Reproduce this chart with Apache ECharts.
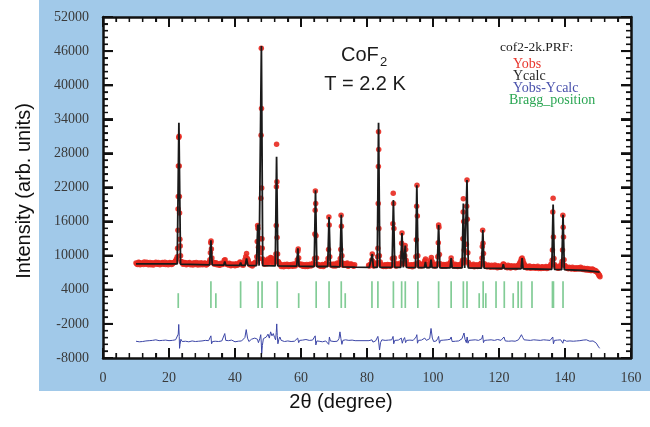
<!DOCTYPE html>
<html>
<head>
<meta charset="utf-8">
<script src="https://cdn.jsdelivr.net/npm/echarts@6/dist/echarts.min.js"></script>
<style>
  html, body { margin: 0; padding: 0; background: #ffffff; }
  #wrap { position: relative; width: 650px; height: 427px; }
  #panel { position: absolute; left: 39px; top: 0; width: 611px; height: 391px; background: #a1c9e9; z-index: 0; }
  #plotbg { position: absolute; left: 103px; top: 17px; width: 528px; height: 341px; background: #ffffff; z-index: 1; }
  #chart { position: absolute; left: 0; top: 0; width: 650px; height: 427px; z-index: 2; }
</style>
</head>
<body>
<div id="wrap">
  <div id="panel"></div>
  <div id="plotbg"></div>
  <div id="chart"></div>
</div>
<script>
// Neutron powder pattern of CoF2 at 2.2 K (FullProf output cof2-2k.PRF)

// Observed intensity, background region [2theta, counts]
const yobsBackground = [
  [10.0, 8700], [10.5, 8450], [11.0, 8800], [11.5, 8550], [12.0, 8650], [12.5, 8900], [13.0, 8500], [13.5, 8700],
  [14.0, 8600], [14.5, 8400], [15.0, 8750], [15.5, 8600], [16.0, 8850], [16.5, 8500], [17.0, 8650], [17.5, 8550],
  [18.0, 8800], [18.5, 8600], [19.0, 8450], [19.5, 8700], [20.0, 8600], [20.5, 8750], [21.0, 8550], [21.5, 8800],
  [22.0, 9100], [24.0, 8900], [24.5, 8600], [25.0, 8750], [25.5, 8500], [26.0, 8650], [26.5, 8400], [27.0, 8600],
  [27.5, 8750], [28.0, 8450], [28.5, 8550], [29.0, 8700], [29.5, 8400], [30.0, 8600], [30.5, 8500], [31.0, 8650],
  [31.5, 8450], [32.0, 8700], [33.5, 8800], [34.0, 8650], [34.5, 8400], [35.0, 8550], [35.5, 8350], [36.0, 8600],
  [36.5, 8700], [37.0, 9300], [37.5, 8500], [38.0, 8350], [38.5, 8550], [39.0, 8300], [39.5, 8450], [40.0, 8250],
  [40.5, 8400], [41.0, 8550], [41.5, 8900], [42.0, 8400], [42.5, 8300], [43.0, 9300], [43.5, 10400], [44.0, 9200],
  [44.5, 8400], [45.0, 8300], [45.5, 8450], [46.0, 8600], [49.0, 8500], [49.5, 8800], [50.0, 9400], [50.5, 8700],
  [51.0, 9600], [51.5, 8900], [52.0, 9200], [53.5, 8600], [54.0, 8100], [54.5, 8300], [55.0, 8450], [55.5, 8150],
  [56.0, 8350], [56.5, 8200], [57.0, 8450], [57.5, 8150], [58.0, 8300], [58.5, 8500], [59.5, 8600], [60.0, 8300],
  [60.5, 8150], [61.0, 8400], [61.5, 8250], [62.0, 8100], [62.5, 8350], [63.0, 8200], [63.5, 8450], [65.5, 8300],
  [66.0, 8150], [66.5, 8450], [67.0, 8250], [67.5, 8500], [69.5, 8350], [70.0, 8550], [70.5, 8200], [71.0, 8700],
  [71.5, 8400], [73.0, 8600], [73.5, 8350], [74.0, 8700], [74.5, 8250], [75.0, 8500], [75.5, 8300], [76.0, 8150],
  [80.5, 8300], [81.0, 8450], [82.0, 8200], [82.5, 8400], [84.5, 8300], [85.0, 8100], [85.5, 8400], [86.0, 8200],
  [86.5, 8350], [87.0, 8150], [87.5, 8300], [88.5, 8400], [89.0, 8250], [89.5, 8450], [92.5, 8300], [93.0, 8150],
  [93.5, 8400], [94.0, 8250], [94.5, 8500], [96.0, 8350], [96.5, 8200], [97.0, 8450], [97.5, 9100], [98.0, 8400],
  [98.5, 8250], [99.0, 8700], [99.5, 9700], [100.0, 8500], [100.5, 8200], [101.0, 8350], [102.5, 8300], [103.0, 8150],
  [103.5, 8400], [104.0, 8200], [104.5, 8350], [105.0, 8600], [106.0, 8450], [106.5, 8150], [107.0, 8350], [107.5, 8100],
  [108.0, 8300], [108.5, 8500], [111.0, 8400], [111.5, 8150], [112.0, 8300], [112.5, 8050], [113.0, 8250], [113.5, 8100],
  [114.0, 8350], [114.5, 8500], [116.0, 8250], [116.5, 8050], [117.0, 8200], [117.5, 7950], [118.0, 8150], [118.5, 8000],
  [119.0, 8200], [119.5, 7900], [120.0, 8100], [120.5, 7950], [121.0, 8250], [121.5, 8500], [122.0, 8050], [122.5, 7900],
  [123.0, 8150], [123.5, 7850], [124.0, 8000], [124.5, 8150], [125.0, 7900], [125.5, 8050], [126.0, 8300], [126.5, 9000],
  [127.0, 9600], [127.5, 8700], [128.0, 8000], [128.5, 7850], [129.0, 8050], [129.5, 7800], [130.0, 7950], [130.5, 8100],
  [131.0, 7800], [131.5, 7950], [132.0, 7750], [132.5, 7900], [133.0, 8050], [133.5, 7800], [134.0, 7950], [134.5, 7750],
  [135.0, 7900], [135.5, 8200], [137.5, 8000], [138.0, 7800], [138.5, 8100], [140.5, 7900], [141.0, 7700], [141.5, 7850],
  [142.0, 7650], [142.5, 7800], [143.0, 7600], [143.5, 7750], [144.0, 7900], [144.5, 7650], [145.0, 7800], [145.5, 7550],
  [146.0, 7700], [146.5, 7600], [147.0, 7450], [147.5, 7650], [148.0, 7400], [148.5, 7550], [149.0, 7300], [149.5, 7200],
  [150.0, 6900], [150.3, 6500], [150.6, 6300]
];

// Observed intensity, background points between the above steps [2theta, counts]
const yobsBackgroundMid = [
  [10.25, 8550], [10.75, 8850], [11.25, 8400], [11.75, 8700], [12.25, 8450], [12.75, 8650], [13.25, 8850], [13.75, 8400],
  [14.25, 8800], [14.75, 8550], [15.25, 8350], [15.75, 8700], [16.25, 8550], [16.75, 8800], [17.25, 8400], [17.75, 8700],
  [18.25, 8500], [18.75, 8850], [19.25, 8650], [19.75, 8400], [20.25, 8800], [20.75, 8450], [21.25, 8700], [21.75, 8900],
  [22.25, 9400], [24.25, 8500], [24.75, 8800], [25.25, 8400], [25.75, 8700], [26.25, 8800], [26.75, 8500], [27.25, 8350],
  [27.75, 8600], [28.25, 8800], [28.75, 8350], [29.25, 8600], [29.75, 8750], [30.25, 8400], [30.75, 8700], [31.25, 8350],
  [31.75, 8600], [32.25, 8900], [33.75, 8500], [34.25, 8750], [34.75, 8550], [35.25, 8300], [35.75, 8650], [36.25, 8450],
  [36.75, 9200], [37.25, 8700], [37.75, 8450], [38.25, 8650], [38.75, 8250], [39.25, 8550], [39.75, 8350], [40.25, 8600],
  [40.75, 8300], [41.25, 8650], [41.75, 8800], [42.25, 8550], [42.75, 8700], [43.25, 9800], [43.75, 9500], [44.25, 8700],
  [44.75, 8500], [45.25, 8200], [45.75, 8650], [46.25, 8900], [48.75, 8800], [49.25, 9100], [49.75, 8600], [50.25, 9200],
  [50.75, 9700], [51.25, 9100], [51.75, 8700], [52.15, 9300], [53.25, 8800], [53.75, 8450], [54.25, 8300], [54.75, 8050],
  [55.25, 8350], [55.75, 8500], [56.25, 8100], [56.75, 8400], [57.25, 8250], [57.75, 8550], [58.25, 8200], [58.75, 8700],
  [59.75, 8350], [60.25, 8500], [60.75, 8250], [61.25, 8100], [61.75, 8450], [62.25, 8250], [62.75, 8500], [63.25, 8300],
  [63.75, 8700], [64.9, 8500], [65.25, 8450], [65.75, 8200], [66.25, 8300], [66.75, 8100], [67.25, 8450], [67.75, 8700],
  [68.9, 8400], [69.25, 8500], [69.75, 8200], [70.25, 8400], [70.75, 8350], [71.25, 8550], [71.75, 8800], [72.6, 8700],
  [72.75, 8300], [73.25, 8450], [73.75, 8600], [74.25, 8150], [74.75, 8450], [75.25, 8550], [75.75, 8250], [76.25, 8400],
  [80.75, 8200], [81.25, 8550], [81.95, 8350], [82.25, 8550], [82.75, 8300], [83.0, 8700], [84.0, 8900], [84.25, 8450],
  [84.75, 8200], [85.25, 8300], [85.75, 8100], [86.25, 8450], [86.75, 8250], [87.25, 8450], [88.6, 8700], [88.75, 8200],
  [89.25, 8450], [89.75, 8300], [90.1, 8700], [91.1, 8600], [92.1, 8600], [92.25, 8400], [92.75, 8200], [93.25, 8350],
  [93.75, 8050], [94.25, 8350], [95.6, 8800], [95.75, 8250], [96.25, 8500], [96.75, 8300], [97.25, 8700], [97.75, 9400],
  [98.25, 8300], [98.75, 8500], [99.25, 9200], [99.75, 9000], [100.25, 8400], [100.75, 8250], [101.25, 8600], [102.2, 8600],
  [102.75, 8250], [103.25, 8450], [103.75, 8200], [104.25, 8500], [104.75, 8300], [105.25, 8700], [105.85, 8400], [106.25, 8300],
  [106.75, 8500], [107.25, 8200], [107.75, 8400], [108.25, 8200], [108.75, 8700], [109.6, 9300], [109.85, 8900], [110.75, 8800],
  [111.25, 8350], [111.75, 8250], [112.25, 8500], [112.75, 8150], [113.25, 8400], [113.75, 8250], [114.25, 8450], [114.6, 8700],
  [115.6, 8600], [115.75, 8300], [116.25, 8100], [116.75, 8350], [117.25, 8100], [117.75, 8300], [118.25, 8050], [118.75, 8350],
  [119.25, 8100], [119.75, 8250], [120.25, 7950], [120.75, 8150], [121.25, 8550], [121.75, 8200], [122.25, 8100], [122.75, 8300],
  [123.25, 8000], [123.75, 8250], [124.25, 7950], [124.75, 8200], [125.25, 8050], [125.75, 8300], [126.25, 8650], [126.75, 9400],
  [127.25, 9200], [127.75, 8400], [128.25, 8150], [128.75, 7950], [129.25, 8200], [129.75, 8000], [130.25, 7850], [130.75, 8050],
  [131.25, 7900], [131.75, 8150], [132.25, 7900], [132.75, 7750], [133.25, 8000], [133.75, 7900], [134.25, 8100], [134.75, 7950],
  [135.25, 8050], [135.75, 8500], [136.9, 8400], [137.25, 8100], [137.75, 7850], [138.25, 7950], [138.75, 8400], [139.9, 8300],
  [140.25, 8100], [140.75, 7800], [141.25, 7950], [141.75, 7750], [142.25, 7950], [142.75, 7700], [143.25, 7900], [143.75, 7650],
  [144.25, 7800], [144.75, 7950], [145.25, 7650], [145.75, 7800], [146.25, 7500], [146.75, 7750], [147.25, 7550], [147.75, 7400],
  [148.25, 7650], [148.75, 7450], [149.25, 7400], [149.75, 7100], [150.15, 6800], [150.45, 6550]
];

// Observed intensity on the Bragg peaks [2theta, counts]
const yobsPeaks = [
  [22.5, 9800], [22.6, 11300], [22.7, 14500], [22.75, 18200], [22.8, 20400], [22.85, 25800], [22.95, 30800],
  [23.05, 31000], [23.1, 25800], [23.15, 20400], [23.2, 17500], [23.3, 12900], [23.4, 11700], [23.5, 10000], [23.7, 9000],
  [32.4, 9300], [32.55, 10500], [32.65, 12300], [32.75, 12600], [32.85, 11200], [33.0, 9600], [33.2, 8900],
  [46.6, 9800], [46.75, 12500], [46.85, 15300], [46.95, 14800], [47.1, 11500], [47.3, 9500],
  [47.7, 10500], [47.78, 13000], [47.85, 20100], [47.9, 31200], [47.97, 46500], [48.03, 35900], [48.1, 21900],
  [48.17, 13000], [48.25, 11300], [48.4, 9400],
  [52.3, 9600], [52.4, 10300], [52.5, 15300], [52.55, 22150], [52.6, 29600], [52.7, 23000], [52.75, 13200],
  [52.9, 10300], [53.1, 9000],
  [58.9, 9300], [59.05, 10800], [59.15, 11200], [59.3, 9600],
  [64.1, 9500], [64.2, 13800], [64.3, 18000], [64.35, 21400], [64.45, 19200], [64.55, 13500], [64.7, 9600],
  [68.2, 9500], [68.35, 11100], [68.45, 16800], [68.55, 15400], [68.7, 9800],
  [71.9, 9500], [72.05, 11100], [72.15, 17100], [72.25, 15200], [72.4, 10000],
  [81.4, 9200], [81.6, 10300], [81.8, 9000],
  [83.2, 9800], [83.3, 11300], [83.4, 19200], [83.45, 25700], [83.5, 31800], [83.55, 28700], [83.6, 14800], [83.75, 10000],
  [87.7, 9500], [87.85, 15600], [87.95, 21000], [88.05, 19200], [88.15, 14800], [88.3, 9600],
  [90.35, 9800], [90.5, 12200], [90.6, 14000], [90.75, 10500],
  [91.45, 10000], [91.55, 11800], [91.7, 11100], [91.85, 9200],
  [94.8, 9800], [94.95, 12800], [95.05, 18700], [95.15, 22400], [95.25, 17000], [95.4, 10000],
  [101.45, 9800], [101.6, 12300], [101.7, 15400], [101.8, 15000], [101.95, 10200],
  [105.4, 9000], [105.5, 9600], [105.65, 8900],
  [108.95, 9200], [109.05, 13000], [109.15, 17700], [109.2, 20000], [109.3, 16000], [109.45, 11000],
  [110.1, 12000], [110.2, 18700], [110.3, 23300], [110.4, 16400], [110.55, 10500],
  [114.85, 9600], [114.95, 11600], [115.05, 14500], [115.15, 12200], [115.3, 10400],
  [136.1, 9200], [136.2, 11000], [136.3, 17700], [136.4, 20100], [136.5, 13300], [136.65, 9500],
  [139.1, 9000], [139.25, 11000], [139.35, 17100], [139.45, 15000], [139.55, 13300], [139.7, 9300]
];

// Calculated profile [2theta, counts]
const ycalc = [
  [10, 8550], [22.5, 8550], [23.0, 33400], [23.5, 8500], [32.3, 8400], [32.7, 12700], [33.1, 8400],
  [36.6, 8350], [36.9, 9000], [37.2, 8350], [41.4, 8300], [41.7, 8800], [42.0, 8300], [43.1, 8300], [43.5, 9500],
  [43.9, 8300], [46.5, 8250], [46.9, 15500], [47.3, 8250], [47.6, 8250], [48.0, 46900], [48.4, 8250],
  [52.2, 8200], [52.6, 27400], [53.0, 8200], [58.7, 8150], [59.05, 11300], [59.4, 8150], [64.0, 8100],
  [64.4, 21500], [64.8, 8100], [68.1, 8100], [68.5, 16800], [68.9, 8100], [71.8, 8050], [72.2, 17200],
  [72.6, 8050], [76.3, 8000], [80.7, 7950], [81.3, 7950], [81.6, 10300], [81.9, 7950], [83.1, 7950],
  [83.5, 33400], [83.9, 7950], [87.6, 7950], [88.0, 19800], [88.4, 7950], [90.2, 7950], [90.6, 14000],
  [91.0, 7950], [91.25, 7950], [91.6, 11800], [91.95, 7950], [94.7, 7900], [95.1, 22400], [95.5, 7900],
  [97.4, 7900], [97.7, 8900], [98.0, 7900], [99.1, 7900], [99.4, 9300], [99.7, 7900], [101.3, 7900],
  [101.7, 15400], [102.1, 7850], [105.2, 7850], [105.5, 9600], [105.8, 7850], [108.8, 7850], [109.2, 19200],
  [109.6, 7850], [109.9, 7850], [110.3, 23300], [110.7, 7850], [114.7, 7800], [115.1, 14500], [115.5, 7800],
  [121.0, 7750], [121.3, 8500], [121.6, 7750], [126.7, 7700], [127.0, 9600], [127.3, 7700], [136.0, 7600],
  [136.4, 19000], [136.8, 7600], [139.0, 7550], [139.4, 17200], [139.8, 7550], [146.0, 7400], [150.5, 7100]
];

// Difference curve Yobs - Ycalc, shifted down [2theta, counts]
const ydiff = [
  [10.0, -5050], [10.5, -4900], [11.0, -5150], [11.5, -4950], [12.0, -5100], [12.5, -4850], [13.0, -5000], [13.5, -5200],
  [14.0, -4950], [14.5, -5100], [15.0, -4900], [15.5, -5050], [16.0, -4800], [16.5, -5100], [17.0, -4950], [17.5, -5150],
  [18.0, -4900], [18.5, -5000], [19.0, -4850], [19.5, -5100], [20.0, -4950], [20.5, -5050], [21.0, -4900], [21.5, -5000],
  [22.0, -4800], [22.5, -4600], [22.8, -3800], [22.95, -2100], [23.1, -4200], [23.2, -6300], [23.35, -5600], [23.6, -4700],
  [24.0, -5100], [24.5, -4900], [25.0, -5050], [25.5, -4950], [26.0, -5150], [26.5, -4900], [27.0, -5000], [27.5, -4850],
  [28.0, -5100], [28.5, -4950], [29.0, -5050], [29.5, -4800], [30.0, -5000], [30.5, -5150], [31.0, -4900], [31.5, -5050],
  [32.0, -4950], [32.5, -4600], [32.7, -4100], [32.9, -5500], [33.2, -5100], [33.5, -4900], [34.0, -5050], [34.5, -4950],
  [35.0, -5100], [35.5, -4850], [36.0, -5000], [36.5, -4700], [36.9, -3700], [37.2, -4900], [37.5, -5100], [38.0, -4950],
  [38.5, -5050], [39.0, -4850], [39.5, -5000], [40.0, -5150], [40.5, -4900], [41.0, -5050], [41.5, -4800], [42.0, -5000],
  [42.5, -5100], [43.0, -4400], [43.4, -3000], [43.8, -4500], [44.2, -5100], [44.5, -4950], [45.0, -4700], [45.5, -5000],
  [46.0, -4500], [46.5, -4200], [46.8, -4700], [47.1, -5300], [47.5, -4600], [47.8, -3900], [47.95, -5200], [48.1, -7200],
  [48.3, -5800], [48.6, -4600], [49.0, -4800], [49.5, -4300], [50.0, -3800], [50.4, -4500], [50.8, -3400], [51.2, -4100],
  [51.6, -3700], [52.0, -4400], [52.3, -4800], [52.5, -3500], [52.65, -2000], [52.8, -4000], [53.0, -5500], [53.3, -4700],
  [53.6, -4300], [54.0, -4900], [54.5, -4700], [55.0, -5100], [55.5, -4800], [56.0, -5000], [56.5, -4750], [57.0, -5100],
  [57.5, -4900], [58.0, -5050], [58.5, -4800], [59.0, -4500], [59.3, -5300], [59.6, -4900], [60.0, -5100], [60.5, -4850],
  [61.0, -5000], [61.5, -4750], [62.0, -5050], [62.5, -4900], [63.0, -5100], [63.5, -4850], [64.0, -4700], [64.3, -4100],
  [64.5, -5700], [64.8, -5000], [65.2, -4800], [65.5, -5050], [66.0, -4900], [66.5, -5150], [67.0, -4850], [67.5, -5000],
  [68.0, -4800], [68.4, -5600], [68.6, -4300], [68.9, -5000], [69.5, -4850], [70.0, -5100], [70.5, -4900], [71.0, -5050],
  [71.5, -4600], [71.8, -3400], [72.1, -4600], [72.4, -5600], [72.7, -4900], [73.0, -5000], [73.5, -4800], [74.0, -5100],
  [74.5, -4900], [75.0, -5050], [75.5, -4850], [76.0, -5000], [76.4, -4950], [80.6, -4950], [81.0, -5100], [81.5, -4800],
  [81.8, -5200], [82.2, -4900], [82.6, -5000], [83.0, -4800], [83.3, -4200], [83.55, -5200], [83.8, -6600], [84.1, -5300],
  [84.5, -4800], [85.0, -5050], [85.5, -4900], [86.0, -5100], [86.5, -4850], [87.0, -5000], [87.5, -4800], [87.9, -4200],
  [88.1, -5500], [88.4, -4900], [89.0, -5050], [89.5, -4850], [90.0, -5000], [90.4, -4500], [90.7, -5400], [91.0, -4800],
  [91.4, -4400], [91.7, -5300], [92.0, -4900], [92.5, -5050], [93.0, -4850], [93.5, -5100], [94.0, -4900], [94.5, -4800],
  [94.9, -4300], [95.1, -3900], [95.3, -5400], [95.6, -4900], [96.0, -5050], [96.5, -4850], [97.0, -4950], [97.5, -4500],
  [98.0, -4900], [98.5, -5100], [99.0, -4600], [99.4, -2800], [99.8, -4500], [100.2, -5100], [100.6, -4850], [101.0, -5000],
  [101.4, -4600], [101.7, -4200], [101.95, -5400], [102.3, -4900], [102.8, -5050], [103.3, -4850], [103.8, -5000],
  [104.3, -4800], [104.8, -5050], [105.2, -4700], [105.5, -4300], [105.8, -5100], [106.3, -4900], [106.8, -5050],
  [107.3, -4850], [107.8, -5000], [108.3, -4800], [108.8, -4600], [109.1, -4100], [109.4, -3600], [109.7, -4700],
  [110.1, -5300], [110.35, -4300], [110.6, -5400], [110.9, -4900], [111.3, -5050], [111.8, -4850], [112.3, -5000],
  [112.8, -4800], [113.3, -5050], [113.8, -4900], [114.3, -5000], [114.8, -4600], [115.05, -4000], [115.3, -5300],
  [115.6, -4900], [116.1, -5050], [116.6, -4850], [117.1, -5000], [117.6, -4800], [118.1, -5050], [118.6, -4900],
  [119.1, -5000], [119.6, -4750], [120.1, -5050], [120.6, -4900], [121.1, -4750], [121.5, -4300], [121.9, -5000],
  [122.4, -4850], [122.9, -5050], [123.4, -4800], [123.9, -5000], [124.4, -4850], [124.9, -5050], [125.4, -4900],
  [125.9, -4800], [126.4, -4500], [126.8, -3900], [127.2, -4400], [127.6, -4800], [128.0, -5000], [128.5, -4850],
  [129.0, -5050], [129.5, -4900], [130.0, -5000], [130.5, -4800], [131.0, -5050], [131.5, -4850], [132.0, -5000],
  [132.5, -4900], [133.0, -5050], [133.5, -4800], [134.0, -5000], [134.5, -4850], [135.0, -5050], [135.5, -4900],
  [136.0, -4700], [136.3, -4300], [136.5, -5500], [136.8, -4900], [137.2, -5050], [137.7, -4850], [138.2, -5000],
  [138.7, -4800], [139.1, -4500], [139.35, -5400], [139.6, -4800], [140.0, -4950], [140.5, -5050], [141.0, -4850],
  [141.5, -5000], [142.0, -4800], [142.5, -5050], [143.0, -4900], [143.5, -5000], [144.0, -4800], [144.5, -4950],
  [145.0, -5050], [145.5, -4850], [146.0, -5000], [146.5, -4800], [147.0, -4950], [147.5, -5050], [148.0, -4900],
  [148.5, -5000], [149.0, -5150], [149.5, -5400], [150.0, -5900], [150.5, -6300]
];

// Bragg reflection positions (2theta): full-height markers and short markers
const braggTall = [32.7, 41.7, 47.0, 48.2, 52.8, 64.6, 68.5, 72.2, 81.5, 83.3, 88.0, 90.5, 91.6, 95.4,
  101.7, 105.5, 109.2, 110.3, 115.2, 119.1, 121.6, 125.8, 126.8, 130.0, 136.2, 136.5, 139.4];
const braggShort = [22.8, 34.2, 59.3, 73.4, 114.0, 116.0, 124.3];
const braggRange = { bottom: 800, tallTop: 5500, shortTop: 3400 };

// Intensity tick labels run from -8000 upward in steps of 6000
const intensityMin = -8000;
const intensityMax = 52000;
const intensityStep = 6000;
const thetaMin = 0, thetaMax = 160, thetaStep = 20;
const minorSplit = 5;

// The value axis is laid out from zero; shift every intensity by the lowest label
const shift = v => v - intensityMin;
const toAxis = arr => arr.map(p => [p[0], shift(p[1])]);
const yAxisMax = intensityMax - intensityMin;

const braggData = braggTall.map(t => [t, shift(braggRange.bottom), shift(braggRange.tallTop)])
  .concat(braggShort.map(t => [t, shift(braggRange.bottom), shift(braggRange.shortTop)]));

// Plot frame layout
const chartW = 650, chartH = 427;
const gridBox = { left: 103, right: 19, top: 17, bottom: 69 };
const plotW = chartW - gridBox.left - gridBox.right;
const plotH = chartH - gridBox.top - gridBox.bottom;

const serif = 'Liberation Serif';
const axisColor = '#111111';
const majorLen = 10, minorLen = 5;

// Inward frame ticks on all four sides, drawn as broken line segments in data units
function frameTickSegments(major) {
  const len = major ? majorLen : minorLen;
  const dy = len * yAxisMax / plotH;
  const dx = len * (thetaMax - thetaMin) / plotW;
  const gap = ['-', '-'];
  const out = [];
  const xStep = thetaStep / minorSplit;
  const xn = Math.round((thetaMax - thetaMin) / xStep);
  for (let i = 0; i <= xn; i++) {
    if ((i % minorSplit === 0) !== major) continue;
    const v = thetaMin + i * xStep;
    out.push([v, 0], [v, dy], gap, [v, yAxisMax], [v, yAxisMax - dy], gap);
  }
  const yStep = intensityStep / minorSplit;
  const yn = Math.round(yAxisMax / yStep);
  for (let i = 0; i <= yn; i++) {
    if ((i % minorSplit === 0) !== major) continue;
    const v = i * yStep;
    out.push([thetaMin, v], [thetaMin + dx, v], gap, [thetaMax, v], [thetaMax - dx, v], gap);
  }
  return out;
}

// The same frame ticks as graphic lines, mapped linearly from axis range to the grid box
function frameTickGraphics() {
  const px = v => gridBox.left + (v - thetaMin) / (thetaMax - thetaMin) * plotW;
  const py = v => gridBox.top + plotH - v / yAxisMax * plotH;
  const out = [];
  const add = (x1, y1, x2, y2, major) => out.push({
    type: 'line', z: 100, silent: false,
    shape: { x1: x1, y1: y1, x2: x2, y2: y2 },
    style: { stroke: axisColor, lineWidth: major ? 2 : 1.2 }
  });
  const xStep = thetaStep / minorSplit;
  const xn = Math.round((thetaMax - thetaMin) / xStep);
  for (let i = 0; i <= xn; i++) {
    const major = i % minorSplit === 0;
    const len = major ? majorLen : minorLen;
    const x = px(thetaMin + i * xStep);
    add(x, py(0), x, py(0) - len, major);
    add(x, py(yAxisMax), x, py(yAxisMax) + len, major);
  }
  const yStep = intensityStep / minorSplit;
  const yn = Math.round(yAxisMax / yStep);
  for (let i = 0; i <= yn; i++) {
    const major = i % minorSplit === 0;
    const len = major ? majorLen : minorLen;
    const y = py(i * yStep);
    add(px(thetaMin), y, px(thetaMin) + len, y, major);
    add(px(thetaMax), y, px(thetaMax) - len, y, major);
  }
  return out;
}

const tickStyle = {
  axisTick: { show: true, inside: true, length: majorLen, lineStyle: { color: axisColor, width: 2 } },
  minorTick: { show: true, splitNumber: minorSplit, length: minorLen, lineStyle: { color: axisColor, width: 1.2 } }
};
const baseX = Object.assign({
  type: 'value', min: thetaMin, max: thetaMax, interval: thetaStep,
  axisLine: { show: true, onZero: false, lineStyle: { color: axisColor, width: 2.5 } },
  splitLine: { show: false }
}, tickStyle);
const baseY = Object.assign({
  type: 'value', min: 0, max: yAxisMax, interval: intensityStep,
  axisLine: { show: true, onZero: false, lineStyle: { color: axisColor, width: 2.5 } },
  splitLine: { show: false }
}, tickStyle);

const textGraphics = [
  { type: 'text', x: 341, y: 55, style: { text: 'CoF', font: '20px "Liberation Sans"', fill: '#1c1c1c', textAlign: 'left', textVerticalAlign: 'middle' } },
  { type: 'text', x: 380, y: 62, style: { text: '2', font: '13px "Liberation Sans"', fill: '#1c1c1c', textAlign: 'left', textVerticalAlign: 'middle' } },
  { type: 'text', x: 365, y: 84, style: { text: 'T = 2.2 K', font: '20px "Liberation Sans"', fill: '#1c1c1c', textAlign: 'center', textVerticalAlign: 'middle' } },
  { type: 'text', x: 500, y: 47, style: { text: 'cof2-2k.PRF:', font: '13.5px "Liberation Serif"', fill: '#222222', textAlign: 'left', textVerticalAlign: 'middle' } },
  { type: 'text', x: 513, y: 64, style: { text: 'Yobs', font: '14px "Liberation Serif"', fill: '#e8352c', textAlign: 'left', textVerticalAlign: 'middle' } },
  { type: 'text', x: 513, y: 76, style: { text: 'Ycalc', font: '14px "Liberation Serif"', fill: '#2a2a2a', textAlign: 'left', textVerticalAlign: 'middle' } },
  { type: 'text', x: 513, y: 88, style: { text: 'Yobs-Ycalc', font: '14px "Liberation Serif"', fill: '#4a52ac', textAlign: 'left', textVerticalAlign: 'middle' } },
  { type: 'text', x: 509, y: 100, style: { text: 'Bragg_position', font: '14px "Liberation Serif"', fill: '#2aa653', textAlign: 'left', textVerticalAlign: 'middle' } },
  { type: 'text', x: 24, y: 191, rotation: Math.PI / 2, style: { text: 'Intensity (arb. units)', font: '20px "Liberation Sans"', fill: '#111111', textAlign: 'center', textVerticalAlign: 'middle' } },
  { type: 'text', x: 341, y: 402, style: { text: '2θ (degree)', font: '20px "Liberation Sans"', fill: '#111111', textAlign: 'center', textVerticalAlign: 'middle' } }
];

const chart = echarts.init(document.getElementById('chart'), null, { renderer: 'canvas' });

chart.setOption({
  backgroundColor: 'transparent',
  animation: false,
  grid: Object.assign({ show: false }, gridBox),
  xAxis: [
    Object.assign({}, baseX, {
      position: 'bottom',
      axisLabel: { show: true, margin: 13, fontFamily: serif, fontSize: 14, color: '#3a3a3a' }
    }),
    Object.assign({}, baseX, { position: 'top', axisLabel: { show: false } })
  ],
  yAxis: [
    Object.assign({}, baseY, {
      position: 'left',
      axisLabel: {
        show: true, margin: 14, fontFamily: serif, fontSize: 14, color: '#3a3a3a',
        formatter: v => String(v + intensityMin)
      }
    }),
    Object.assign({}, baseY, { position: 'right', axisLabel: { show: false } })
  ],
  series: [
    {
      name: 'major ticks', type: 'line', z: 10, silent: true, clip: false,
      showSymbol: false, symbol: 'none', connectNulls: false,
      data: frameTickSegments(true),
      lineStyle: { color: axisColor, width: 2 }
    },
    {
      name: 'minor ticks', type: 'line', z: 10, silent: true, clip: false,
      showSymbol: false, symbol: 'none', connectNulls: false,
      data: frameTickSegments(false),
      lineStyle: { color: axisColor, width: 1.2 }
    },
    {
      name: 'Bragg_position', type: 'custom', z: 2,
      encode: { x: 0, y: [1, 2] },
      data: braggData,
      renderItem: (params, api) => {
        const p0 = api.coord([api.value(0), api.value(1)]);
        const p1 = api.coord([api.value(0), api.value(2)]);
        return {
          type: 'line',
          shape: { x1: p0[0], y1: p0[1], x2: p1[0], y2: p1[1] },
          style: { stroke: '#82cc96', lineWidth: 1.7 }
        };
      }
    },
    {
      name: 'Yobs-Ycalc', type: 'line', z: 3, showSymbol: false, symbol: 'none',
      data: toAxis(ydiff),
      lineStyle: { color: '#3b45a6', width: 1 }
    },
    {
      name: 'Yobs', type: 'scatter', z: 3, symbol: 'circle', symbolSize: 5.5,
      data: toAxis(yobsBackground.concat(yobsBackgroundMid, yobsPeaks)),
      itemStyle: { color: '#e8291f', opacity: 0.9 }
    },
    {
      name: 'Ycalc', type: 'line', z: 4, showSymbol: false, symbol: 'none',
      data: toAxis(ycalc),
      lineStyle: { color: '#1a1a1a', width: 1.8 }
    }
  ],
  graphic: textGraphics.concat(frameTickGraphics())
});
</script>
</body>
</html>
